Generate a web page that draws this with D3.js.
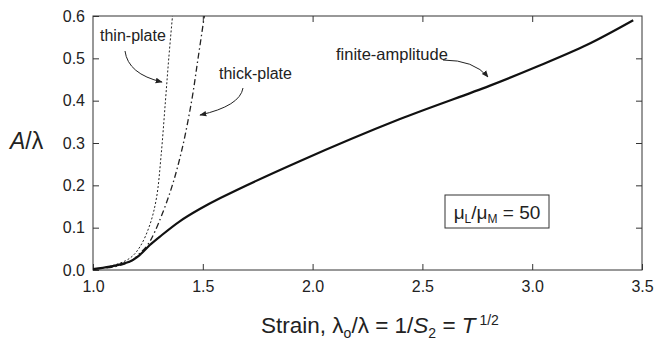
<!DOCTYPE html>
<html><head><meta charset="utf-8">
<script src="https://cdn.jsdelivr.net/npm/d3@7"></script>
<style>
body{margin:0;background:#fff;}
text{font-family:"Liberation Sans",Arial,sans-serif;fill:#222;}
</style></head>
<body><svg id="c" width="659" height="340"></svg>
<script>
// ---- data ----
const xTicks = [1.0, 1.5, 2.0, 2.5, 3.0, 3.5];
const yTicks = [0.0, 0.1, 0.2, 0.3, 0.4, 0.5, 0.6];
const finiteX = [1.0, 1.077, 1.168, 1.214, 1.259, 1.305, 1.395, 1.486, 1.58, 1.941, 2.395, 2.805, 3.02, 3.25, 3.46];
const finiteY = [0.002, 0.008, 0.02, 0.036, 0.059, 0.079, 0.115, 0.144, 0.17, 0.257, 0.356, 0.435, 0.48, 0.532, 0.59];
const thinX = [1.0, 1.08, 1.168, 1.214, 1.259, 1.289, 1.31, 1.33, 1.345, 1.362];
const thinY = [0.002, 0.009, 0.028, 0.055, 0.107, 0.17, 0.27, 0.40, 0.50, 0.60];
const thickX = [1.0, 1.1, 1.17, 1.214, 1.25, 1.282, 1.35, 1.403, 1.449, 1.479, 1.507];
const thickY = [0.002, 0.008, 0.02, 0.04, 0.06, 0.091, 0.182, 0.28, 0.399, 0.502, 0.60];

const svg = d3.select("#c");
const L = 93, R = 642, T = 16, B = 270;
const x = d3.scaleLinear().domain([1.0, 3.5]).range([L, R]);
const y = d3.scaleLinear().domain([0, 0.6]).range([B, T]);
const ink = "#222";

// frame
svg.append("rect").attr("x", L).attr("y", T).attr("width", R - L).attr("height", B - T)
  .attr("fill", "none").attr("stroke", "#333").attr("stroke-width", 1);

const fmt = d3.format(".1f");
// bottom axis
const gx = svg.append("g").attr("transform", `translate(0,${B})`)
  .call(d3.axisBottom(x).tickValues(xTicks).tickFormat(fmt).tickSizeInner(-6).tickSizeOuter(0).tickPadding(11));
gx.select(".domain").remove();
gx.selectAll("line").attr("stroke", "#333");
gx.selectAll("text").attr("font-size", 16).attr("fill", ink);
// top mirror ticks
const gt = svg.append("g").attr("transform", `translate(0,${T})`)
  .call(d3.axisTop(x).tickValues(xTicks.slice(1, -1)).tickSizeInner(-6).tickSizeOuter(0).tickFormat(""));
gt.select(".domain").remove();
gt.selectAll("line").attr("stroke", "#333");
// left axis
const gy = svg.append("g").attr("transform", `translate(${L},0)`)
  .call(d3.axisLeft(y).tickValues(yTicks).tickFormat(fmt).tickSizeInner(-6).tickSizeOuter(0).tickPadding(8));
gy.select(".domain").remove();
gy.selectAll("line").attr("stroke", "#333");
gy.selectAll("text").attr("font-size", 16).attr("fill", ink);
// right mirror ticks
const gr = svg.append("g").attr("transform", `translate(${R},0)`)
  .call(d3.axisRight(y).tickValues(yTicks.slice(1, -1)).tickSizeInner(-6).tickSizeOuter(0).tickFormat(""));
gr.select(".domain").remove();
gr.selectAll("line").attr("stroke", "#333");

// curves
const line = d3.line().x(d => x(d[0])).y(d => y(d[1])).curve(d3.curveCatmullRom.alpha(0.5));
const clipId = "clipP";
svg.append("clipPath").attr("id", clipId).append("rect").attr("x", L).attr("y", T).attr("width", R - L).attr("height", B - T);
const plot = svg.append("g").attr("clip-path", `url(#${clipId})`);
plot.append("path").datum(d3.zip(thinX, thinY)).attr("d", line)
  .attr("fill", "none").attr("stroke", ink).attr("stroke-width", 1).attr("stroke-dasharray", "2,2");
plot.append("path").datum(d3.zip(thickX, thickY)).attr("d", line)
  .attr("fill", "none").attr("stroke", ink).attr("stroke-width", 1.3).attr("stroke-dasharray", "6,3,1.5,3");
plot.append("path").datum(d3.zip(finiteX, finiteY)).attr("d", line)
  .attr("fill", "none").attr("stroke", "#111").attr("stroke-width", 2.2);

// arrows
const defs = svg.append("defs");
defs.append("marker").attr("id", "ah").attr("viewBox", "0 0 10 10").attr("refX", 9).attr("refY", 5)
  .attr("markerWidth", 7).attr("markerHeight", 7).attr("markerUnits", "userSpaceOnUse").attr("orient", "auto")
  .append("path").attr("d", "M0,1 L10,5 L0,9 Z").attr("fill", ink);
function arrow(d) {
  svg.append("path").attr("d", d).attr("fill", "none").attr("stroke", ink).attr("stroke-width", 1)
    .attr("marker-end", "url(#ah)");
}
arrow("M125,51 Q128,74 162,82");
arrow("M243,88 Q240,106 200,115");
arrow("M443,60 Q474,60 488,77");

// annotation labels
svg.append("text").attr("x", 100).attr("y", 41).attr("font-size", 16).text("thin-plate");
svg.append("text").attr("x", 219).attr("y", 79).attr("font-size", 16).text("thick-plate");
svg.append("text").attr("x", 336).attr("y", 60).attr("font-size", 16.5).text("finite-amplitude");

// parameter box
svg.append("rect").attr("x", 445).attr("y", 195).attr("width", 104).attr("height", 33)
  .attr("fill", "#fff").attr("stroke", "#333").attr("stroke-width", 1);
const bt = svg.append("text").attr("x", 497).attr("y", 219).attr("text-anchor", "middle").attr("font-size", 19);
bt.append("tspan").text("μ");
bt.append("tspan").attr("font-size", 12).attr("dy", 4).text("L");
bt.append("tspan").attr("dy", -4).text("/μ");
bt.append("tspan").attr("font-size", 12).attr("dy", 4).text("M");
bt.append("tspan").attr("dy", -4).text(" = 50");

// axis titles
const xt = svg.append("text").attr("x", 380).attr("y", 333).attr("text-anchor", "middle").attr("font-size", 22.5);
xt.append("tspan").text("Strain, λ");
xt.append("tspan").attr("font-size", 14).attr("dy", 5).text("o");
xt.append("tspan").attr("dy", -5).text("/λ = 1/");
xt.append("tspan").attr("font-style", "italic").text("S");
xt.append("tspan").attr("font-size", 14).attr("dy", 5).text("2");
xt.append("tspan").attr("dy", -5).text(" = ");
xt.append("tspan").attr("font-style", "italic").text("T");
xt.append("tspan").attr("font-size", 14).attr("dy", -8).text(" 1/2");

const yt = svg.append("text").attr("x", 10).attr("y", 149).attr("font-size", 23);
yt.append("tspan").attr("font-style", "italic").text("A");
yt.append("tspan").text("/λ");
</script></body></html>
